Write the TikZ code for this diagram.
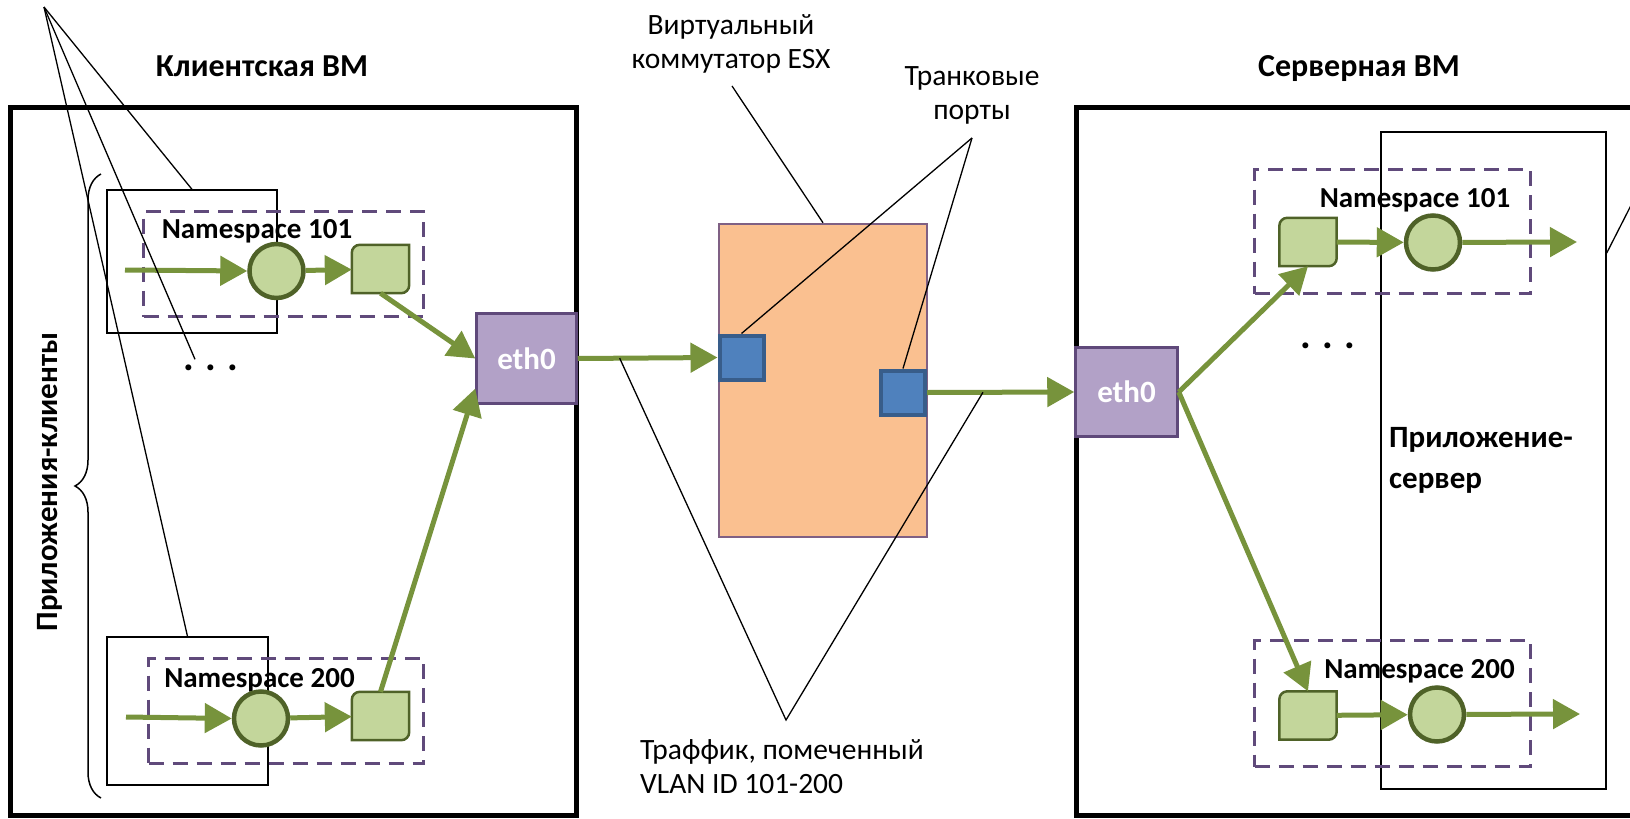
\documentclass[tikz,border=0pt]{standalone}
\usepackage{fontspec}
\setmainfont{Carlito}
\usetikzlibrary{arrows.meta,calc,decorations.pathreplacing}

\definecolor{flowgreen}{HTML}{77933C}
\definecolor{nicdark}{HTML}{4F6228}
\definecolor{niclight}{HTML}{C3D69B}
\definecolor{ethfill}{HTML}{B2A1C7}
\definecolor{ethline}{HTML}{5F497A}
\definecolor{nsline}{HTML}{604A7B}
\definecolor{esxfill}{HTML}{FAC090}
\definecolor{esxline}{HTML}{7F6084}
\definecolor{portfill}{HTML}{4F81BD}
\definecolor{portline}{HTML}{385D8A}

\tikzset{
  vmbox/.style={draw=black, line width=5pt, inner sep=0pt},
  vmtitle/.style={font=\fontsize{32}{36}\selectfont\bfseries, anchor=base, inner sep=0pt},
  applabel/.style={font=\fontsize{31}{41}\selectfont\bfseries, inner sep=0pt},
  appbox/.style={draw=black, line width=1.3pt, inner sep=0pt},
  nsbox/.style={draw=nsline, line width=2.8pt, dash pattern=on 15pt off 9pt,
                inner sep=0pt},
  nslabel/.style={font=\fontsize{29}{34}\selectfont\bfseries, anchor=base, inner sep=0pt},
  vnic/.style={circle, draw=nicdark, fill=niclight, line width=4.5pt,
               minimum size=54pt, inner sep=0pt},
  sock/.style={minimum width=57pt, minimum height=48pt, inner sep=0pt,
    append after command={
      \pgfextra{
        \filldraw[draw=nicdark, fill=niclight, line width=2.5pt]
          (\tikzlastnode.south west)
          [rounded corners=8pt] -- (\tikzlastnode.north west)
          [sharp corners] -- (\tikzlastnode.north east)
          [rounded corners=8pt] -- (\tikzlastnode.south east)
          [sharp corners] -- (\tikzlastnode.south west) -- cycle;
      }
    }
  },
  ethbox/.style={draw=ethline, fill=ethfill, line width=2.5pt, text=white,
                 font=\fontsize{31}{34}\selectfont\bfseries, inner sep=0pt},
  esxbox/.style={draw=esxline, fill=esxfill, line width=2.5pt, inner sep=0pt},
  trunkport/.style={draw=portline, fill=portfill, line width=4pt,
                    minimum size=44pt, inner sep=0pt},
  flow/.style={draw=flowgreen, line width=5pt, -{Triangle[length=27pt,width=29pt]}},
  callout/.style={draw=black, line width=1.3pt},
  note/.style={font=\fontsize{29.5}{34}\selectfont, inner sep=0pt},
  dotsrow/.style={font=\fontsize{40}{40}\selectfont\bfseries, inner sep=0pt}
}

\begin{document}
\begin{tikzpicture}[x=1pt, y=-1pt]
  \useasboundingbox (0,0) rectangle (1630,819);
  \clip (0,0) rectangle (1630,819);

  % virtual machines
  \node[vmbox, minimum width=566pt, minimum height=708pt] (clientvm) at (293.75,461.25) {};
  \node[vmbox, minimum width=624pt, minimum height=708pt] (servervm) at (1388,461.25) {};
  \node[vmtitle] (clienttitle) at (262,76) {Клиентская ВМ};
  \node[vmtitle] (servertitle) at (1359,76) {Серверная ВМ};

  % client side
  \draw[line width=1.5pt, decorate, decoration={brace, amplitude=26pt}]
    (101,798) -- (101,174);
  \node[applabel, rotate=90] (clientapps) at (50,482) {Приложения-клиенты};

  \node[appbox, minimum width=170pt, minimum height=143pt] (capp1) at (192,261.5) {};
  \node[appbox, minimum width=161pt, minimum height=148pt] (capp2) at (187.5,711) {};
  \node[nsbox, minimum width=280pt, minimum height=105pt] (cns1) at (283.5,264) {};
  \node[nsbox, minimum width=275pt, minimum height=105pt] (cns2) at (286,711) {};
  \node[nslabel] (cnsname1) at (257,238) {Namespace 101};
  \node[nslabel] (cnsname2) at (259.5,687) {Namespace 200};
  \node[vnic] (cnic1) at (276.5,271) {};
  \node[vnic] (cnic2) at (261,718.5) {};
  \node[sock] (csock1) at (380.5,269) {};
  \node[sock] (csock2) at (380.5,716) {};
  \node[dotsrow] (cdots) at (211,368) {.\hskip11pt.\hskip11pt.};
  \node[ethbox, minimum width=100pt, minimum height=90pt] (ceth) at (526.5,358.5) {eth0};

  % ESX switch
  \node[esxbox, minimum width=208pt, minimum height=313pt] (esx) at (823,380.5) {};
  \node[trunkport] (port1) at (741.5,357.5) {};
  \node[trunkport] (port2) at (903,392.5) {};

  % server side
  \node[appbox, minimum width=225pt, minimum height=657pt] (sapp) at (1493.5,460.5) {};
  \node[nsbox, minimum width=276pt, minimum height=124pt] (sns1) at (1392.5,231.5) {};
  \node[nsbox, minimum width=276pt, minimum height=126pt] (sns2) at (1392.5,703.5) {};
  \node[nslabel] (snsname1) at (1415,207) {Namespace 101};
  \node[nslabel] (snsname2) at (1419.5,678) {Namespace 200};
  \node[sock] (ssock1) at (1308,242) {};
  \node[sock] (ssock2) at (1308,715.5) {};
  \node[vnic] (snic1) at (1433,242.5) {};
  \node[vnic] (snic2) at (1437,714.5) {};
  \node[dotsrow] (sdots) at (1328,346) {.\hskip11pt.\hskip11pt.};
  \node[ethbox, minimum width=102pt, minimum height=89pt] (seth) at (1126.5,392) {eth0};
  \node[applabel, anchor=base west, align=left] (srvapp) at (1389,488)
    {Приложение-\\сервер};

  % traffic
  \coordinate (cin1) at (125,270);
  \coordinate (cin2) at (126,717);
  \coordinate (sout1) at (1577,242);
  \coordinate (sout2) at (1580,714);
  \draw[flow] (cin1) -- (cnic1.west);
  \draw[flow] (cnic1) -- (csock1);
  \draw[flow] (cin2) -- (cnic2.west);
  \draw[flow] (cnic2) -- (csock2);
  \draw[flow] (csock1.south) -- (ceth.west);
  \draw[flow] (csock2.north) -- ($(ceth.west)!0.65!(ceth.south west)$);
  \draw[flow] (ceth.east) -- (port1.west);
  \draw[flow] (port2.east) -- (seth.west);
  \draw[flow] (seth.east) -- (ssock1.south);
  \draw[flow] (seth.east) -- (ssock2.north);
  \draw[flow] (ssock1) -- (snic1);
  \draw[flow] (snic1) -- (sout1);
  \draw[flow] (ssock2) -- (snic2);
  \draw[flow] (snic2) -- (sout2);

  % notes and callouts
  \node[note, align=center, anchor=base] (esxnote) at (731,68)
    {Виртуальный\\коммутатор ESX};
  \node[note, align=center, anchor=base] (trunknote) at (972,119)
    {Транковые\\порты};
  \node[note, align=left, anchor=base west] (vlannote) at (640,793)
    {Траффик, помеченный\\VLAN ID 101-200};

  \coordinate (appsnote) at (44,7);
  \coordinate (trunkapex) at ($(trunknote.south)+(0,14)$);
  \coordinate (vlanapex) at (786,720);
  \coordinate (tag1) at ($(ceth.east)!0.3!(port1.west)$);
  \coordinate (tag2) at ($(port2.east)!0.38!(seth.west)$);
  \coordinate (srvnote) at (1650,168);

  \draw[callout] (appsnote) -- (capp1.north);
  \draw[callout, shorten >=6pt] (appsnote) -- ($(cdots.north west)!0.25!(cdots.north east)$);
  \draw[callout] (appsnote) -- (capp2.north);
  \draw[callout] ($(esxnote.south)+(1,13)$) -- (esx.north);
  \draw[callout] (trunkapex) -- (port1.north);
  \draw[callout] (trunkapex) -- (port2.north);
  \draw[callout] (tag1) -- (vlanapex) -- (tag2);
  \draw[callout] ($(sapp.north east)!0.185!(sapp.south east)$) -- (srvnote);
\end{tikzpicture}
\end{document}
